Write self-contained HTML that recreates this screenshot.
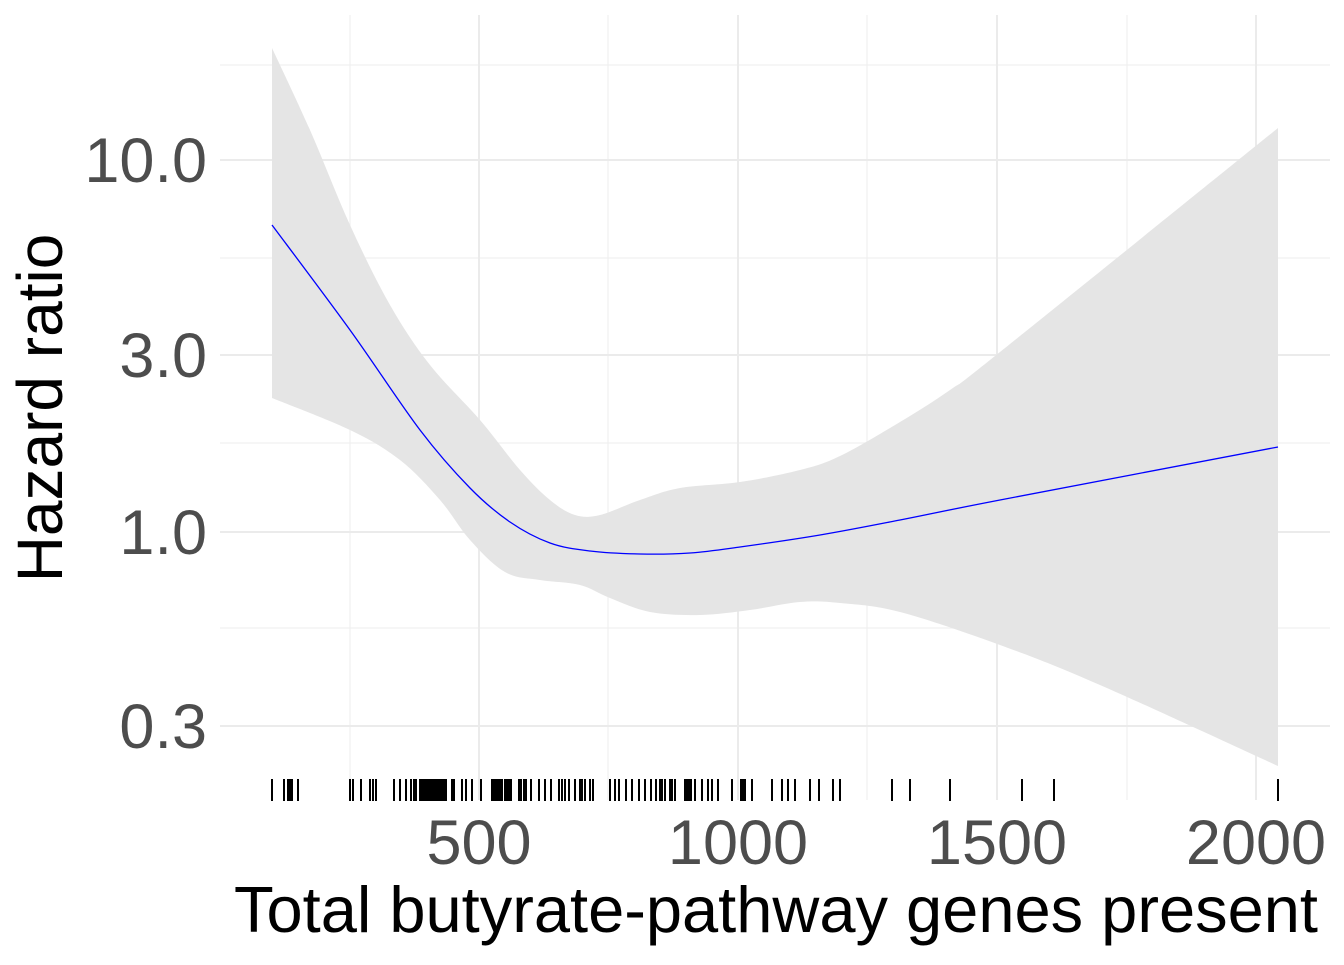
<!DOCTYPE html>
<html><head><meta charset="utf-8"><style>body{margin:0;background:#fff}</style></head><body>
<svg width="1344" height="960" xmlns="http://www.w3.org/2000/svg" font-family="Liberation Sans, sans-serif">
<g stroke="#f0f0f0" stroke-width="1.2">
<line x1="220" x2="1330" y1="65" y2="65"/><line x1="220" x2="1330" y1="258" y2="258"/><line x1="220" x2="1330" y1="443" y2="443"/><line x1="220" x2="1330" y1="628" y2="628"/>
<line x1="350" x2="350" y1="15" y2="800"/><line x1="608" x2="608" y1="15" y2="800"/><line x1="867" x2="867" y1="15" y2="800"/><line x1="1127" x2="1127" y1="15" y2="800"/>
</g>
<g stroke="#ebebeb" stroke-width="2">
<line x1="220" x2="1330" y1="160" y2="160"/><line x1="220" x2="1330" y1="355" y2="355"/><line x1="220" x2="1330" y1="532" y2="532"/><line x1="220" x2="1330" y1="726" y2="726"/>
<line x1="479" x2="479" y1="15" y2="800"/><line x1="738" x2="738" y1="15" y2="800"/><line x1="997" x2="997" y1="15" y2="800"/><line x1="1256" x2="1256" y1="15" y2="800"/>
</g>
<path id="band" fill="#e5e5e5" d=""/>
<path id="fit" fill="none" stroke="#0000ff" stroke-width="1.3" d=""/>
<g stroke="#000" stroke-width="2" id="rug"></g>
<g fill="#4d4d4d" font-size="63" text-anchor="end">
<text x="207" y="182">10.0</text><text x="207" y="377">3.0</text><text x="207" y="554">1.0</text><text x="207" y="748">0.3</text>
</g>
<g fill="#4d4d4d" font-size="63" text-anchor="middle">
<text x="479" y="864">500</text><text x="738" y="864">1000</text><text x="997" y="864">1500</text><text x="1256" y="864">2000</text>
</g>
<text x="776" y="932" font-size="65" text-anchor="middle" fill="#000">Total butyrate-pathway genes present</text>
<text transform="translate(62,408) rotate(-90)" font-size="64" text-anchor="middle" fill="#000">Hazard ratio</text>
</svg>
<script>
function cr(p){var d='M'+p[0][0]+','+p[0][1];for(var i=0;i<p.length-1;i++){var a=p[i-1]||p[i],b=p[i],c=p[i+1],e=p[i+2]||c;
d+=' C'+(b[0]+(c[0]-a[0])/6)+','+(b[1]+(c[1]-a[1])/6)+' '+(c[0]-(e[0]-b[0])/6)+','+(c[1]-(e[1]-b[1])/6)+' '+c[0]+','+c[1];}return d;}
var up=[[272,48],[310,130],[350,225],[390,305],[430,365],[480,420],[520,470],[550,500],[575,515],[600,515],[640,500],[680,488],[740,482],[800,470],[840,456],[900,422],[950,390],[1000,352],[1278,128]];
var lo=[[1278,766],[1100,685],[1000,645],[900,612],[840,603],[800,602],[750,610],[700,615],[650,612],[610,598],[580,585],[540,580],[505,572],[470,540],[440,500],[400,460],[350,430],[272,398]];
document.getElementById('band').setAttribute('d',cr(up)+' L1278,766 '+cr(lo).slice(1).replace(/^[^C]*/,'')+' Z');
var f=[[272,225],[350,330],[420,430],[470,488],[510,522],[550,543],[590,551],[640,554],[690,553],[740,547],[820,535],[900,520],[1000,500],[1278,447]];
document.getElementById('fit').setAttribute('d',cr(f));
var xs=[272,284,288,290,292,298,350,353,361,370,373,376,394,400,406,411,414,416,420,422,424,426,428,430,432,434,436,438,440,442,444,446,452,454,462,466,472,481,492,494,496,498,500,502,505,507,509,511,519,521,524,526,531,539,545,551,559,562,565,569,575,580,582,585,590,593,610,615,619,626,632,639,645,651,656,660,662,665,670,672,675,685,687,689,691,695,702,708,712,718,732,741,743,745,752,772,782,788,795,810,819,833,840,892,910,950,1022,1054,1278];
var s='';xs.forEach(function(x){s+='<line x1="'+x+'" x2="'+x+'" y1="779" y2="801"/>';});
document.getElementById('rug').innerHTML=s;
</script>
</body></html>
